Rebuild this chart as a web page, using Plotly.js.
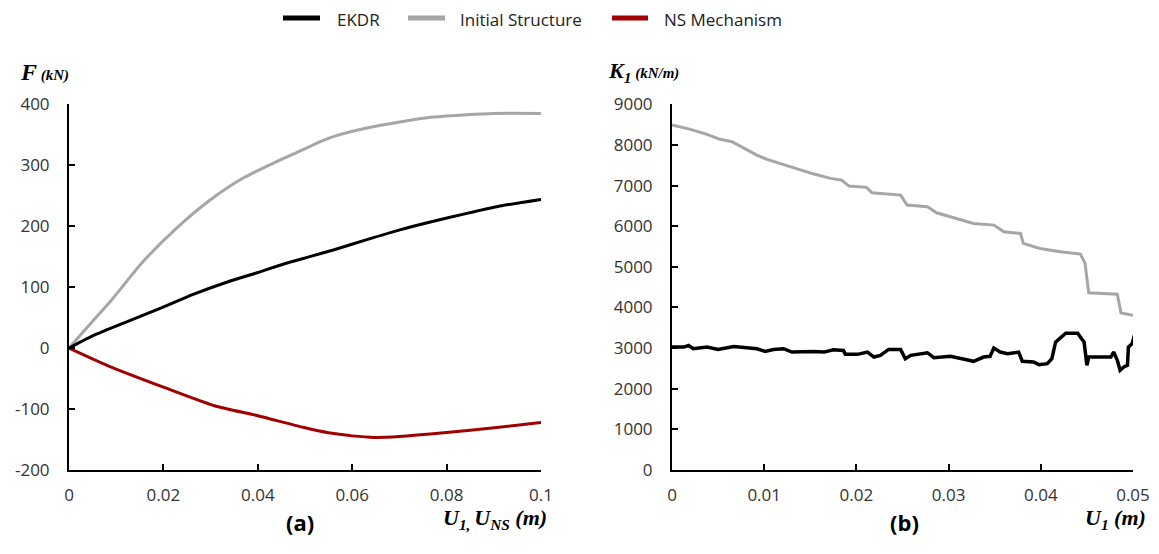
<!DOCTYPE html>
<html>
<head>
<meta charset="utf-8">
<script src="https://cdn.plot.ly/plotly-3.0.1.min.js"></script>
<style>html,body{margin:0;padding:0;background:#fff;}#chart{width:1159px;height:554px;}</style>
</head>
<body>
<div id="chart"></div>
<script>
// ---- data ----
const seriesNames = ["EKDR", "Initial Structure", "NS Mechanism"];
const seriesColors = ["#000000", "#A6A6A6", "#A00000"];

// panel (a): F vs displacement
const uEKDR_a = [0, 0.005, 0.0122, 0.0193, 0.0263, 0.0334, 0.04, 0.0455, 0.051, 0.056, 0.0631, 0.0701, 0.0772, 0.0843, 0.0913, 0.1];
const fEKDR_a = [0, 20, 43, 65, 88, 108, 124, 138, 150, 161, 178, 194, 208, 221, 233, 244];
const uInit_a = [0, 0.005, 0.0087, 0.0157, 0.0228, 0.0299, 0.0369, 0.044, 0.0489, 0.053, 0.056, 0.0631, 0.0701, 0.0772, 0.0843, 0.09, 0.1];
const fInit_a = [0, 44, 76, 142, 197, 243, 279, 306, 323, 338, 347, 361, 371, 379, 383, 385, 385];
const uNS_a = [0, 0.00815, 0.02, 0.0308, 0.04, 0.0496, 0.055, 0.06, 0.0647, 0.07, 0.08, 0.0911, 0.1];
const fNS_a = [0, -28.6, -64, -94.5, -111, -130, -139, -144, -146.5, -145, -138.5, -130, -122];

// panel (b): K1 vs U1
const uInit_b = [0, 0.002, 0.0038, 0.0052, 0.0065, 0.0078, 0.0092, 0.0103, 0.0117, 0.0136, 0.0154, 0.0172, 0.0184, 0.0192, 0.0211, 0.0217, 0.0248, 0.0255, 0.0277, 0.0287, 0.0313, 0.0327, 0.0349, 0.036, 0.0378, 0.0381, 0.0399, 0.0421, 0.0443, 0.0448, 0.0452, 0.0483, 0.0487, 0.05];
const kInit_b = [8490, 8384, 8261, 8138, 8079, 7916, 7751, 7645, 7547, 7399, 7283, 7177, 7135, 6988, 6956, 6823, 6766, 6520, 6478, 6330, 6150, 6069, 6027, 5862, 5823, 5577, 5453, 5370, 5313, 5084, 4360, 4328, 3867, 3810];
const uEKDR_b = [0, 0.0013, 0.0018, 0.0023, 0.0038, 0.005, 0.0067, 0.0077, 0.0092, 0.0101, 0.011, 0.0121, 0.013, 0.0154, 0.0165, 0.0175, 0.0186, 0.0188, 0.0201, 0.0212, 0.0219, 0.0226, 0.0235, 0.0248, 0.0253, 0.0259, 0.0277, 0.0284, 0.0302, 0.0317, 0.0327, 0.0338, 0.0345, 0.0349, 0.0356, 0.0364, 0.0376, 0.038, 0.0392, 0.0398, 0.0407, 0.0412, 0.0416, 0.0427, 0.044, 0.0447, 0.045, 0.0452, 0.0476, 0.0479, 0.0483, 0.0486, 0.049, 0.0494, 0.0495, 0.0499, 0.0502];
const kEKDR_b = [3024, 3024, 3065, 2984, 3024, 2967, 3040, 3024, 2984, 2919, 2967, 2984, 2902, 2919, 2902, 2959, 2943, 2846, 2846, 2902, 2780, 2821, 2967, 2967, 2740, 2821, 2886, 2764, 2797, 2724, 2675, 2780, 2797, 3000, 2902, 2862, 2902, 2675, 2659, 2593, 2618, 2740, 3146, 3366, 3366, 3146, 2577, 2780, 2780, 2902, 2699, 2455, 2537, 2577, 3024, 3106, 3350];

// tick labels
const yTickValsA = [-200, -100, 0, 100, 200, 300, 400];
const yTickTextA = ["-200", "-100", "0", "100", "200", "300", "400"];
const xTickValsA = [0, 0.02, 0.04, 0.06, 0.08, 0.1];
const xTickTextA = ["0", "0.02", "0.04", "0.06", "0.08", "0.1"];
const xTickValsB = [0, 0.01, 0.02, 0.03, 0.04, 0.05];
const xTickTextB = ["0", "0.01", "0.02", "0.03", "0.04", "0.05"];
const yTickValsB = [0, 1000, 2000, 3000, 4000, 5000, 6000, 7000, 8000, 9000];
const yTickTextB = yTickValsB.map(String);

// ---- layout helpers ----
const W = 1159, H = 554;
const px = x => x / W;
const py = y => 1 - y / H;

const traces = [
  {x: uInit_a, y: fInit_a, xaxis: 'x', yaxis: 'y', mode: 'lines', name: seriesNames[1], line: {color: seriesColors[1], width: 3, shape: 'spline', smoothing: 0.6}},
  {x: uEKDR_a, y: fEKDR_a, xaxis: 'x', yaxis: 'y', mode: 'lines', name: seriesNames[0], line: {color: seriesColors[0], width: 3, shape: 'spline', smoothing: 0.6}},
  {x: uNS_a, y: fNS_a, xaxis: 'x', yaxis: 'y', mode: 'lines', name: seriesNames[2], line: {color: seriesColors[2], width: 3, shape: 'spline', smoothing: 0.6}},
  {x: uInit_b, y: kInit_b, xaxis: 'x2', yaxis: 'y2', mode: 'lines', name: seriesNames[1], line: {color: seriesColors[1], width: 3}},
  {x: uEKDR_b, y: kEKDR_b, xaxis: 'x2', yaxis: 'y2', mode: 'lines', name: seriesNames[0], line: {color: seriesColors[0], width: 3.5}}
];

const tickFont = {family: 'Open Sans, sans-serif', size: 17, color: '#333333'};
const axisBase = {
  showgrid: false, zeroline: false, showline: true, linecolor: '#000', linewidth: 2,
  ticks: 'inside', ticklen: 6, tickwidth: 2, tickcolor: '#000', tickfont: tickFont,
  tickmode: 'array', fixedrange: true
};

const layout = {
  width: W, height: H,
  margin: {l: 0, r: 0, t: 0, b: 0},
  paper_bgcolor: '#fff', plot_bgcolor: '#fff',
  showlegend: false,
  xaxis: Object.assign({}, axisBase, {domain: [px(69), px(541)], range: [0, 0.1], anchor: 'y', tickvals: xTickValsA, ticktext: xTickTextA, ticklabelstandoff: 9}),
  yaxis: Object.assign({}, axisBase, {domain: [py(470), py(104.3)], range: [-200, 400], anchor: 'x', tickvals: yTickValsA, ticktext: yTickTextA, ticklabelstandoff: 14}),
  xaxis2: Object.assign({}, axisBase, {domain: [px(672), px(1133)], range: [0, 0.05], anchor: 'y2', tickvals: xTickValsB, ticktext: xTickTextB, ticklabelstandoff: 9}),
  yaxis2: Object.assign({}, axisBase, {domain: [py(470), py(104.3)], range: [0, 9000], anchor: 'x2', tickvals: yTickValsB, ticktext: yTickTextB, ticklabelstandoff: 14}),
  shapes: [],
  annotations: []
};

// legend (manual, row at top)
const legLineX = [[283, 320], [408, 445], [612, 648]];
const legTextX = [335, 458, 662];
for (let i = 0; i < 3; i++) {
  layout.shapes.push({type: 'line', xref: 'paper', yref: 'paper', x0: px(legLineX[i][0]), x1: px(legLineX[i][1]), y0: py(18), y1: py(18), line: {color: seriesColors[i], width: 5}});
  layout.annotations.push({xref: 'paper', yref: 'paper', x: px(legTextX[i]), y: py(19), xanchor: 'left', yanchor: 'middle', showarrow: false, text: seriesNames[i], font: {family: 'Open Sans, sans-serif', size: 17, color: '#222'}});
}

const serif = 'Liberation Serif, Times New Roman, serif';
layout.annotations.push(
  {xref: 'paper', yref: 'paper', x: px(18), y: py(72), xanchor: 'left', yanchor: 'middle', showarrow: false,
   text: '<b><i>F</i></b><span style="font-size:15px"><b><i> (kN)</i></b></span>', font: {family: serif, size: 24, color: '#000'}},
  {xref: 'paper', yref: 'paper', x: px(606), y: py(72), xanchor: 'left', yanchor: 'middle', showarrow: false,
   text: '<b><i>K<sub>1</sub></i></b><span style="font-size:15px"><b><i> (kN/m)</i></b></span>', font: {family: serif, size: 22, color: '#000'}},
  {xref: 'paper', yref: 'paper', x: px(549), y: py(519), xanchor: 'right', yanchor: 'middle', showarrow: false,
   text: '<b><i>U<sub>1, </sub>U<sub>NS</sub> (m)</i></b>', font: {family: serif, size: 22, color: '#000'}},
  {xref: 'paper', yref: 'paper', x: px(1148), y: py(519), xanchor: 'right', yanchor: 'middle', showarrow: false,
   text: '<b><i>U<sub>1</sub> (m)</i></b>', font: {family: serif, size: 22, color: '#000'}},
  {xref: 'paper', yref: 'paper', x: px(300), y: py(522), xanchor: 'center', yanchor: 'middle', showarrow: false,
   text: '<b>(a)</b>', font: {family: 'Open Sans, sans-serif', size: 22, color: '#000'}},
  {xref: 'paper', yref: 'paper', x: px(904), y: py(522), xanchor: 'center', yanchor: 'middle', showarrow: false,
   text: '<b>(b)</b>', font: {family: 'Open Sans, sans-serif', size: 22, color: '#000'}}
);

Plotly.newPlot('chart', traces, layout, {displayModeBar: false, staticPlot: true});
</script>
</body>
</html>
